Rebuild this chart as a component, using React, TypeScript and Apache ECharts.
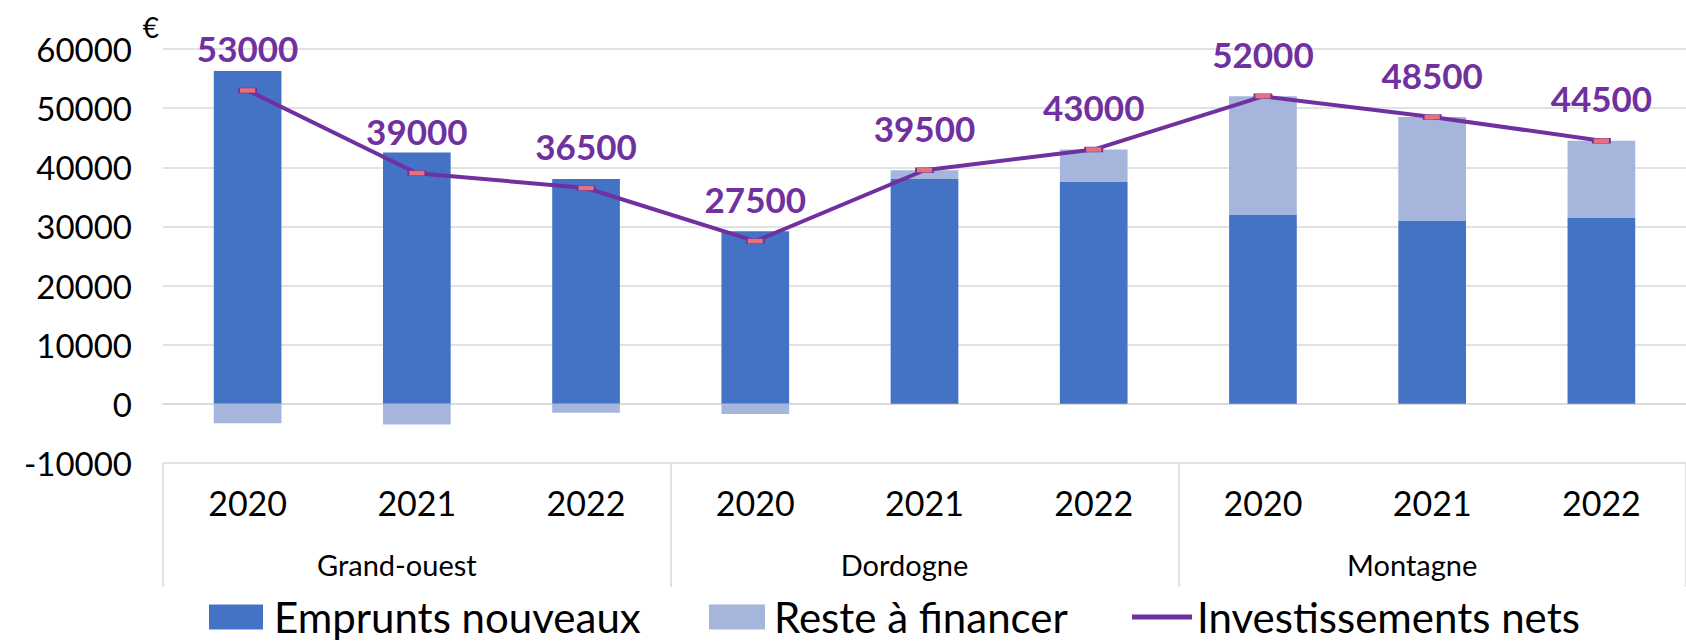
import React, { useEffect, useRef } from "react";
import * as echarts from "echarts";

const years = ["2020", "2021", "2022", "2020", "2021", "2022", "2020", "2021", "2022"];
const groups = ["Grand-ouest", "Dordogne", "Montagne"];
const yTicks = { min: -10000, max: 60000, interval: 10000 };
const empruntsNouveaux = [56300, 42500, 38000, 29200, 38000, 37500, 32000, 31000, 31500];
const resteAFinancer = [-3300, -3500, -1500, -1700, 1500, 5500, 20000, 17500, 13000];
const investissementsNets = [53000, 39000, 36500, 27500, 39500, 43000, 52000, 48500, 44500];

const FONT = "Lato";
const GRID = "#D9D9D9";
const PURPLE = "#7030A0";

export default function App() {
  const ref = useRef<HTMLDivElement>(null);
  useEffect(() => {
    if (!ref.current) return;
    const chart = echarts.init(ref.current, null, { renderer: "svg" });
    const legendText = { fontFamily: FONT, fontSize: 42, lineHeight: 42, color: "#000" };
    chart.setOption({
      animation: false,
      backgroundColor: "#ffffff",
      grid: { left: 163, top: 49, height: 414, width: 1539, containLabel: false },
      legend: [
        {
          data: [{ name: "Emprunts nouveaux", icon: "rect" }], left: 209, top: 596, padding: 0,
          itemWidth: 54, itemHeight: 25,
          textStyle: { ...legendText, padding: [0, 0, 0, 6] },
        },
        {
          data: [{ name: "Reste à financer", icon: "rect" }], left: 709, top: 596, padding: 0,
          itemWidth: 56, itemHeight: 25,
          textStyle: { ...legendText, padding: [0, 0, 0, 4] },
        },
        {
          data: [{ name: "Investissements nets", icon: "rect" }], left: 1132, top: 596, padding: 0,
          itemWidth: 60, itemHeight: 5,
          itemStyle: { color: PURPLE, borderWidth: 0 },
          textStyle: { ...legendText },
        },
      ],
      xAxis: [
        {
          type: "category",
          data: years,
          position: "bottom",
          offset: 0,
          axisLine: { show: true, lineStyle: { color: GRID, width: 1.5 } },
          axisTick: { show: false },
          axisLabel: { fontFamily: FONT, fontSize: 34, color: "#000", margin: 22 },
        },
        {
          type: "category",
          data: groups,
          position: "bottom",
          offset: 0,
          axisLine: { show: false },
          axisTick: { show: true, length: 124, lineStyle: { color: GRID, width: 1.5 } },
          axisLabel: {
            fontFamily: FONT, fontSize: 29, color: "#000", margin: 87,
            padding: [0, 40, 0, 0],
          },
        },
      ],
      yAxis: {
        type: "value",
        min: yTicks.min,
        max: yTicks.max,
        interval: yTicks.interval,
        name: "€",
        nameLocation: "end",
        nameGap: 8,
        nameTextStyle: { fontFamily: FONT, fontSize: 28, color: "#000", align: "right", padding: [0, 4, 0, 0] },
        axisLine: { show: false },
        axisTick: { show: false },
        axisLabel: {
          fontFamily: FONT, fontSize: 33, color: "#000", margin: 31,
          formatter: (v: number) => String(v),
        },
        splitLine: { show: true, lineStyle: { color: GRID, width: 1.5 } },
      },
      series: [
        {
          name: "Emprunts nouveaux",
          type: "bar",
          stack: "total",
          barWidth: "40%",
          data: empruntsNouveaux,
          itemStyle: { color: "#4472C4" },
        },
        {
          name: "Reste à financer",
          type: "bar",
          stack: "total",
          barWidth: "40%",
          data: resteAFinancer,
          itemStyle: { color: "#A6B5DB" },
        },
        {
          name: "Investissements nets",
          type: "line",
          data: investissementsNets,
          symbol: "rect",
          symbolSize: [17, 5],
          z: 5,
          lineStyle: { color: PURPLE, width: 4 },
          itemStyle: { color: "#E8707A", borderColor: PURPLE, borderWidth: 1 },
          label: {
            show: true,
            position: "top",
            distance: 22,
            fontFamily: FONT,
            fontSize: 35,
            fontWeight: "bold",
            color: PURPLE,
          },
        },
      ],
    });
    return () => chart.dispose();
  }, []);
  return (
    <div
      ref={ref}
      style={{ position: "fixed", left: 0, top: 0, width: 1686, height: 641, background: "#fff" }}
    />
  );
}
